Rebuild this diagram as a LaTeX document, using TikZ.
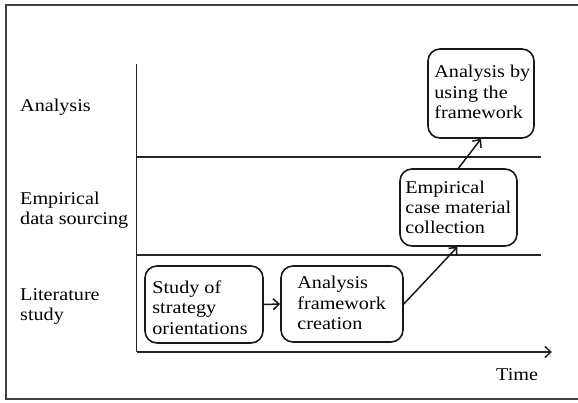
\documentclass[tikz,border=0pt]{standalone}
\usepackage{fontspec}
\setmainfont{Liberation Serif}[FakeStretch=1.12]
\usetikzlibrary{arrows.meta}
\begin{document}
\begin{tikzpicture}[x=1pt,y=-1pt,
  axis/.style={line width=1.6pt,draw=black!85},
  lane/.style={line width=1.5pt,draw=black!85},
  frame/.style={line width=2pt,draw=black!75},
  stepbox/.style={draw=black!90,line width=1.6pt,rounded corners=12pt,inner sep=0pt},
  txt/.style={inner sep=0pt,align=left,font=\fontsize{18}{20.3}\selectfont},
  tip/.style={-{Straight Barb[length=6pt,width=11pt,line width=1.5pt]}},
  arr/.style={line width=1.5pt,draw=black!90,tip}
]
\useasboundingbox (0,0) rectangle (578,402);
\fill[white] (0,0) rectangle (578,402);
% outer frame (right edge falls outside the picture)
\draw[frame] (590,5) -- (6,5) -- (6,399) -- (590,399);
% axes and lanes
\coordinate (ytop) at (136.5,64);
\coordinate (orig) at (136.5,352);
\coordinate (xend) at (552,352);
\coordinate (l1a) at (136.5,157);
\coordinate (l1b) at (541,157);
\coordinate (l2a) at (136.5,255);
\coordinate (l2b) at (541,255);
\draw[axis] (ytop) -- (orig);
\draw[axis,tip] (orig) -- (xend);
\draw[lane] (l1a) -- (l1b);
\draw[lane] (l2a) -- (l2b);
% lane labels
\node[txt,anchor=west] (lanA) at (20,107) {Analysis};
\node[txt,anchor=west] (lanE) at (20,210) {Empirical\\data sourcing};
\node[txt,anchor=west] (lanL) at (20,306.5) {Literature\\study};
\node[txt,anchor=west] (time) at (496,375) {Time};
% boxes
\node[stepbox,minimum width=118pt,minimum height=77pt] (study) at (204,304.5) {};
\node[stepbox,minimum width=122pt,minimum height=76pt] (frm) at (342,304) {};
\node[stepbox,minimum width=117pt,minimum height=77pt] (emp) at (458.5,207.5) {};
\node[stepbox,minimum width=106pt,minimum height=89pt] (anl) at (481,93.5) {};
% box texts
\node[txt,anchor=west] (studyT) at ([xshift=8pt,yshift=-3pt]study.west) {Study of\\strategy\\orientations};
\node[txt,anchor=west] (frmT) at ([xshift=17pt,yshift=1pt]frm.west) {Analysis\\framework\\creation};
\node[txt,anchor=west] (empT) at ([xshift=6pt]emp.west) {Empirical\\case material\\collection};
\node[txt,anchor=west] (anlT) at ([xshift=7pt,yshift=1.5pt]anl.west) {Analysis by\\using the\\framework};
% connectors
\draw[arr] (study.east) -- (frm.west);
\draw[arr] (frm.east) -- ([xshift=-1pt]emp.south);
\draw[arr] (emp.north) -- (anl.south);
\end{tikzpicture}
\end{document}
